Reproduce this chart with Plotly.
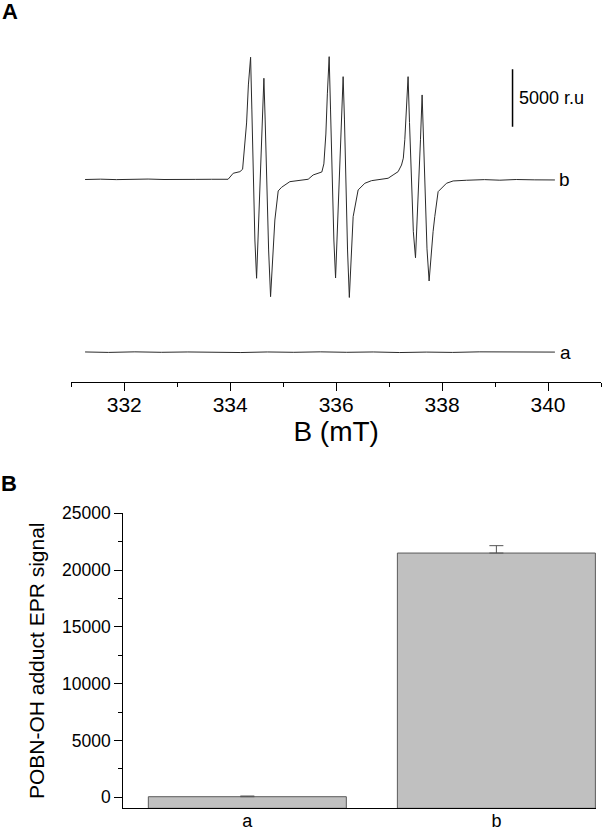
import plotly.graph_objects as go

# EPR spectrum b (field in mT, intensity in r.u.)
field_b = [331.26, 331.55, 331.85, 332.15, 332.45, 332.75, 333.05, 333.35, 333.65, 333.96,
           334.057, 334.183, 334.234, 334.268, 334.309, 334.343, 334.385, 334.409, 334.434, 334.466,
           334.498, 334.532, 334.560, 334.592, 334.617, 334.636, 334.660, 334.687, 334.725, 334.762,
           334.806, 334.843, 334.906, 334.970, 335.126, 335.253, 335.472, 335.566, 335.692, 335.730,
           335.768, 335.806, 335.834, 335.868, 335.894, 335.919, 335.957, 335.989, 336.023, 336.051,
           336.083, 336.108, 336.132, 336.157, 336.183, 336.215, 336.249, 336.287, 336.321, 336.415,
           336.542, 336.668, 336.981, 337.075, 337.170, 337.234, 337.268, 337.296, 337.328, 337.358,
           337.385, 337.419, 337.457, 337.498, 337.532, 337.560, 337.592, 337.623, 337.649, 337.677,
           337.715, 337.755, 337.796, 337.830, 337.862, 337.925, 338.083, 338.208, 338.460, 338.80,
           339.09, 339.40, 339.75, 340.13]
int_b = [40, 70, 30, 60, 80, 40, 70, 50, 60, 60,
         584, 723, 932, 2613, 4965, 8275, 10687, 6097, 610, -5226,
         -8562, -4355, -871, 2029, 6097, 8858, 5226, -261, -6097, -10165,
         -6533, -3484, -958, -636, -148, -61, 61, 436, 636, 697,
         1400, 4000, 7500, 10739, 6097, 610, -5226, -8536, -4355, -871,
         2029, 6097, 8997, 5226, -261, -6097, -10234, -6533, -3197, -871,
         -287, -61, 148, 436, 723, 1300, 1900, 3500, 6500, 8997,
         5000, 0, -4500, -6776, -3500, -300, 3500, 7404, 3800, -1500,
         -6000, -8797, -6000, -4500, -3197, -1019, -287, -87, -26, 30,
         -20, 40, 10, 0]

# EPR spectrum a (control, flat)
field_a = [331.26, 331.7, 332.2, 332.7, 333.2, 333.7, 334.2, 334.7, 335.2, 335.7,
           336.2, 336.7, 337.2, 337.7, 338.2, 338.7, 339.2, 339.7, 340.13]
int_a = [20, -20, 30, -10, 20, 0, -30, 20, -10, 30,
         -10, 20, -30, 10, -20, 30, 0, -20, 10]

# bar chart
bar_labels = ['a', 'b']
bar_values = [50, 21500]
bar_errors = [60, 650]

OFFSET_A = -15000      # vertical offset of trace a in panel A
SCALE_BAR = 5000
FONT = 'Arial, Liberation Sans, sans-serif'
W, H = 604, 834

fig = go.Figure()

fig.add_trace(go.Scatter(x=field_b, y=int_b, mode='lines',
                         line=dict(color='#2a2a2a', width=1), xaxis='x', yaxis='y',
                         hoverinfo='skip'))
fig.add_trace(go.Scatter(x=field_a, y=[v + OFFSET_A for v in int_a], mode='lines',
                         line=dict(color='#2a2a2a', width=1), xaxis='x', yaxis='y',
                         hoverinfo='skip'))

ymin_b = -970
fig.add_trace(go.Bar(x=[0, 1], y=[v - ymin_b for v in bar_values], base=ymin_b,
                     width=0.795, xaxis='x2', yaxis='y2',
                     marker=dict(color='#c0c0c0', line=dict(color='#5a5a5a', width=1)),
                     error_y=dict(type='data', symmetric=False, array=bar_errors,
                                  arrayminus=[0, 0], color='#555555', thickness=1, width=7)))

# scale bar in panel A
bar_x = 339.33
fig.add_shape(type='line', xref='x', yref='y', x0=bar_x, x1=bar_x,
              y0=4640, y1=4640 + SCALE_BAR, line=dict(color='black', width=1.5))

annotations = [
    dict(text='<b>A</b>', x=9.5 / W, y=1 - 11 / H, xref='paper', yref='paper',
         xanchor='center', yanchor='middle',
         showarrow=False, font=dict(size=22, color='black')),
    dict(text='<b>B</b>', x=9 / W, y=1 - 484 / H, xref='paper', yref='paper',
         xanchor='center', yanchor='middle',
         showarrow=False, font=dict(size=22, color='black')),
    dict(text='5000 r.u', x=bar_x, y=4640 + SCALE_BAR / 2, xref='x', yref='y',
         xanchor='left', xshift=4, showarrow=False, font=dict(size=18, color='black')),
    dict(text='b', x=field_b[-1], y=int_b[-1], xref='x', yref='y',
         xanchor='left', xshift=2, showarrow=False, font=dict(size=19, color='black')),
    dict(text='a', x=field_a[-1], y=int_a[-1] + OFFSET_A, xref='x', yref='y',
         xanchor='left', xshift=3, showarrow=False, font=dict(size=19, color='black')),
]

fig.update_layout(
    width=W, height=H,
    margin=dict(l=0, r=0, t=0, b=0),
    paper_bgcolor='white', plot_bgcolor='white',
    showlegend=False,
    font=dict(family=FONT, color='black'),
    annotations=annotations,
    xaxis=dict(domain=[71.3 / W, 601 / W], range=[331, 341], anchor='y',
               showline=True, linecolor='black', linewidth=1.3,
               ticks='outside', ticklen=8, tickwidth=1.2, tickcolor='black',
               tick0=332, dtick=2, showgrid=False, zeroline=False,
               tickfont=dict(size=21), ticklabelstandoff=-4,
               minor=dict(ticks='outside', ticklen=4, dtick=1, tick0=331,
                          tickcolor='black', tickwidth=1.2),
               title=dict(text='B (mT)', font=dict(size=28), standoff=2),
               automargin=False),
    yaxis=dict(domain=[1 - 381.7 / H, 1 - 40 / H], range=[-17570, 12190], anchor='x',
               visible=False, showgrid=False, zeroline=False),
    xaxis2=dict(domain=[123.3 / W, 596 / W], range=[-0.498, 1.40], anchor='y2',
                showline=True, linecolor='black', linewidth=1.3,
                ticks='', tickvals=[0, 1], ticktext=bar_labels,
                tickfont=dict(size=18), ticklabelstandoff=-4,
                showgrid=False, zeroline=False, automargin=False),
    yaxis2=dict(domain=[1 - 808.3 / H, 1 - 513.3 / H], range=[ymin_b, 25000], anchor='x2',
                showline=True, linecolor='black', linewidth=1.3,
                ticks='outside', ticklen=8, tickwidth=1.2, tickcolor='black',
                tickvals=[0, 5000, 10000, 15000, 20000, 25000], tickformat='d',
                tickfont=dict(size=17.5), showgrid=False, zeroline=False,
                minor=dict(ticks='outside', ticklen=4, tickvals=[2500, 7500, 12500, 17500, 22500],
                           tickcolor='black', tickwidth=1.2),
                title=dict(text='POBN-OH adduct EPR signal', font=dict(size=21), standoff=11),
                automargin=False),
)

# the page body has a default 8px margin; drop it so the figure sits at the window corner
fig.write_html("out.html", config={'displayModeBar': False},
               post_script="document.body.style.margin='0px';")
